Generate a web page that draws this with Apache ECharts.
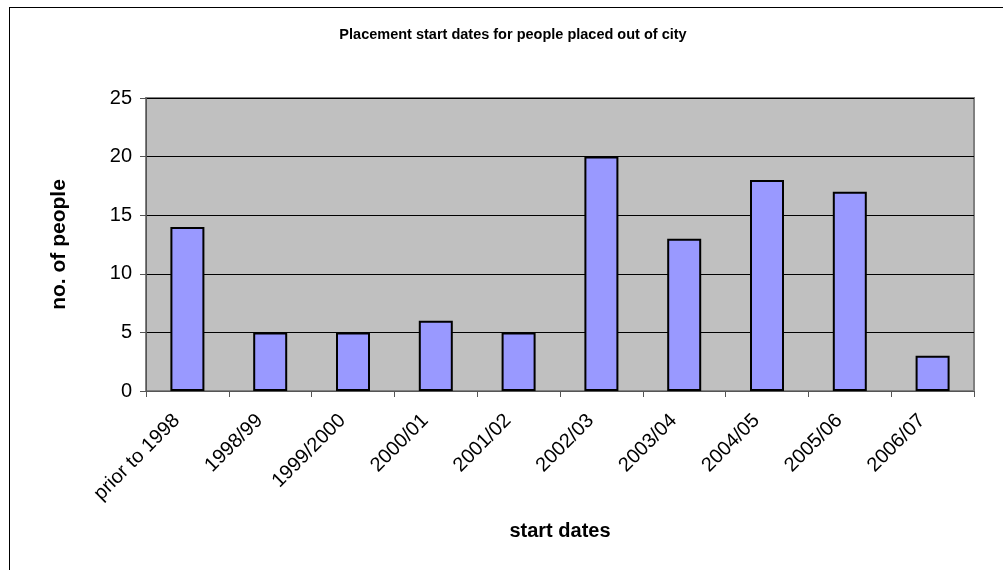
<!DOCTYPE html>
<html><head><meta charset="utf-8">
<script src="https://cdn.jsdelivr.net/npm/echarts@6/dist/echarts.min.js"></script>
<style>
html,body{margin:0;padding:0;background:#fff;overflow:hidden}
#frame{position:absolute;left:9px;top:7px;width:1100px;height:700px;border:1px solid #000;box-sizing:border-box}
#c{position:absolute;left:0;top:0;width:1003px;height:570px}
</style></head><body>
<div id="frame"></div>
<div id="c"></div>
<script>
const categories = ['prior to 1998','1998/99','1999/2000','2000/01','2001/02','2002/03','2003/04','2004/05','2005/06','2006/07'];
const values = [14,5,5,6,5,20,13,18,17,3];
const yTicks = {min:0, max:25, interval:5};
const chart = echarts.init(document.getElementById('c'));
const FF = 'Liberation Sans, Arial';
chart.setOption({
  animation:false,
  title:{text:'Placement start dates for people placed out of city',left:508,top:22,textAlign:'center',
    textStyle:{fontFamily:FF,fontWeight:'bold',fontSize:14.5,color:'#000'}},
  grid:{left:146,right:29,top:98,bottom:179,show:true,backgroundColor:'#c0c0c0',borderColor:'#808080',borderWidth:2},
  xAxis:{type:'category',data:categories,
    axisLine:{lineStyle:{color:'#555',width:1}},
    axisTick:{show:true,inside:false,length:6,lineStyle:{color:'#555'}},
    axisLabel:{rotate:45,fontFamily:FF,fontSize:20,color:'#000',margin:16,interval:0,padding:[0,15,0,0]},
    name:'start dates',nameLocation:'middle',nameGap:130,
    nameTextStyle:{fontFamily:FF,fontWeight:'bold',fontSize:20,color:'#000'}},
  yAxis:{type:'value',min:yTicks.min,max:yTicks.max,interval:yTicks.interval,
    axisLine:{show:true,lineStyle:{color:'#555'}},
    axisTick:{show:true,length:6,lineStyle:{color:'#555'}},
    splitLine:{lineStyle:{color:'#000',width:1}},
    axisLabel:{fontFamily:FF,fontSize:20,color:'#000',margin:14},
    name:'no. of people',nameLocation:'middle',nameGap:76,
    nameTextStyle:{fontFamily:FF,fontWeight:'bold',fontSize:21,color:'#000'}},
  series:[{type:'bar',data:values,barWidth:34,
    itemStyle:{color:'#9999ff',borderColor:'#000',borderWidth:2}}]
});
</script></body></html>
